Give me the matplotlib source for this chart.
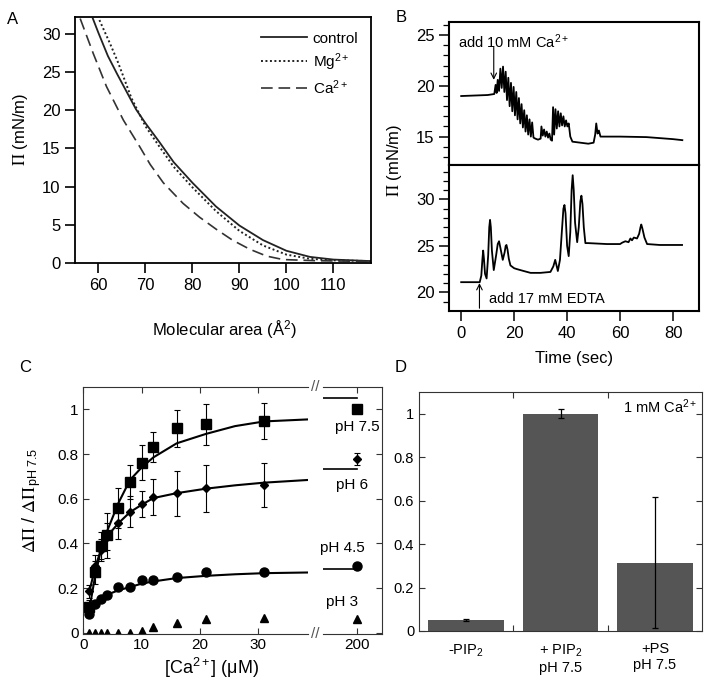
import numpy as np
import matplotlib
matplotlib.use('Agg')
import matplotlib.pyplot as plt

plt.rcParams['font.family'] = ['Liberation Sans', 'DejaVu Sans']
plt.rcParams['mathtext.fontset'] = 'stix'

# ---------------- data ----------------
# A: isotherms
area_ctrl = [58.8, 60, 62, 64, 66, 68, 70, 73, 76, 80, 85, 90, 95, 100, 105, 110, 118]
pi_ctrl = [32.0, 30.1, 27.1, 24.7, 22.4, 20.1, 18.3, 15.8, 13.2, 10.5, 7.4, 4.9, 3.0, 1.6, 0.8, 0.45, 0.25]
area_mg = [60.2, 61, 62.4, 64, 65.3, 67, 70, 73, 76, 80, 85, 90, 95, 100, 105, 110, 118]
pi_mg = [31.8, 30.7, 28.8, 26.5, 24.4, 21.6, 17.9, 15.2, 12.6, 9.9, 6.8, 4.2, 2.3, 1.1, 0.55, 0.35, 0.25]
area_ca = [56.1, 58.9, 61.7, 65.3, 68.8, 71.0, 73.8, 78.0, 81.5, 85.1, 88.5, 92.2, 95.8, 99.3, 106.4, 118]
pi_ca = [32.0, 27.4, 23.1, 18.7, 15.2, 12.9, 10.5, 7.8, 6.0, 4.4, 3.0, 1.8, 0.9, 0.45, 0.3, 0.2]

# B: time traces
t_ca = [0, 5, 10, 12.5, 13.0, 13.4, 13.8, 14.3, 14.8, 15.3, 15.8, 16.3, 16.8, 17.3, 17.8, 18.3,
        18.8, 19.3, 19.8, 20.3, 20.8, 21.3, 21.8, 22.3, 22.8, 23.3, 23.8, 24.3, 24.8, 25.3, 25.8,
        26.3, 26.8, 27.3, 28, 29, 30, 30.3, 30.8, 31.3, 31.8, 32.3, 32.8, 33.3, 33.8, 34.3, 34.7,
        35.1, 35.6, 36.1, 36.6, 37.1, 37.6, 38.1, 38.6, 39.1, 39.6, 40.1, 40.6, 41.2, 42, 45, 48,
        50, 50.6, 51.0, 51.5, 52.0, 52.6, 55, 60, 70, 75, 80, 83.5]
pi_ca_t = [19.0, 19.05, 19.1, 19.2, 20.1, 19.3, 20.6, 19.5, 21.7, 19.8, 21.9, 19.4, 21.4, 18.6, 20.8,
           18.0, 20.3, 17.5, 19.9, 17.1, 19.4, 16.7, 18.8, 16.3, 18.2, 15.9, 17.6, 15.5, 17.1, 15.2,
           16.7, 15.0, 16.4, 14.9, 14.8, 14.7, 14.8, 16.0, 15.1, 15.7, 15.0, 15.5, 14.9, 15.3, 14.7,
           14.6, 17.9, 15.2, 17.7, 15.8, 17.5, 16.0, 17.3, 16.1, 17.0, 16.0, 16.6, 16.0, 16.3, 15.0,
           14.5, 14.4, 14.3, 14.4, 15.2, 16.3, 15.3, 15.6, 15.0, 15.0, 15.0, 14.95, 14.85, 14.75, 14.65]
t_edta = [0, 4, 7.0, 7.6, 8.0, 8.3, 8.6, 9.0, 9.6, 10.2, 10.6, 10.9, 11.2, 11.6, 12.3, 13.2, 13.8,
          14.3, 14.8, 15.7, 16.4, 16.8, 17.1, 17.5, 18.0, 18.6, 20, 21.1, 23.6, 26.2, 29.9, 33.7,
          34.8, 35.5, 36.0, 36.5, 37.3, 38.0, 38.6, 39.0, 39.4, 40.0, 40.6, 41.2, 41.7, 42.1, 42.5,
          43.0, 43.8, 44.4, 45.0, 45.4, 45.8, 46.3, 46.9, 48, 55, 60, 60.8, 62, 63.2, 63.9, 64.5,
          65.2, 66.4, 67.2, 67.7, 68.0, 68.4, 69.2, 70.2, 75, 83.4]
pi_edta = [21.1, 21.1, 21.1, 21.8, 23.5, 24.5, 23.6, 22.0, 21.5, 24.0, 27.0, 27.8, 27.0, 24.5, 22.4,
           24.0, 25.2, 25.5, 24.8, 23.5, 24.3, 25.0, 25.1, 24.6, 23.6, 22.9, 22.6, 22.5, 22.3, 22.1,
           22.1, 22.2, 22.8, 23.5, 22.9, 22.3, 23.5, 26.5, 29.0, 29.4, 28.5, 25.0, 23.9, 26.5, 31.0,
           32.6, 31.0, 27.5, 25.4, 27.0, 29.8, 30.4, 29.5, 27.0, 25.3, 25.3, 25.2, 25.2, 25.35, 25.5,
           25.4, 25.8, 25.6, 25.9, 25.8, 26.3, 27.0, 27.3, 26.9, 25.9, 25.2, 25.1, 25.1]

# C: titration
ca_conc = [1, 2, 3, 4, 6, 8, 10, 12, 16, 21, 31]
ph75 = [0.115, 0.27, 0.39, 0.437, 0.557, 0.676, 0.761, 0.83, 0.915, 0.933, 0.949]
ph75_err = [0.03, 0.05, 0.06, 0.1, 0.09, 0.075, 0.078, 0.067, 0.082, 0.091, 0.081]
ph6 = [0.185, 0.30, 0.37, 0.43, 0.49, 0.542, 0.575, 0.609, 0.624, 0.646, 0.661]
ph6_err = [0.03, 0.05, 0.05, 0.06, 0.07, 0.07, 0.058, 0.08, 0.1, 0.105, 0.1]
ph45 = [0.085, 0.13, 0.151, 0.169, 0.203, 0.203, 0.237, 0.237, 0.252, 0.27, 0.27]
ph3 = [0, 0, 0, 0, 0, 0, 0.008, 0.027, 0.045, 0.062, 0.065]
fit_x = [1, 2, 3, 4, 6, 8, 10, 12, 16, 21, 26, 31, 38.5]
fit75 = [0.10, 0.25, 0.37, 0.45, 0.58, 0.684, 0.74, 0.785, 0.848, 0.89, 0.925, 0.946, 0.955]
fit6 = [0.18, 0.29, 0.37, 0.43, 0.49, 0.54, 0.573, 0.603, 0.625, 0.645, 0.66, 0.672, 0.684]
fit45 = [0.11, 0.135, 0.155, 0.17, 0.19, 0.205, 0.22, 0.23, 0.245, 0.255, 0.262, 0.267, 0.27]
x200 = 200
at200 = {'7.5': 1.0, '6': 0.778, '4.5': 0.299, '3': 0.06}
err200_ph6 = 0.027
fit200 = {'7.5': 1.049, '6': 0.733, '4.5': 0.285}

# D: bars
bar_labels = [r'-PIP$\mathregular{_2}$', '+ PIP$\\mathregular{_2}$\npH 7.5', '+PS\npH 7.5']
bar_vals = [0.05, 1.0, 0.315]
bar_err = [0.003, 0.02, 0.30]

W, H = 708, 687
fig = plt.figure(figsize=(W / 100, H / 100), dpi=100)


def box(l, t, r, b):
    return [l / W, 1 - b / H, (r - l) / W, (b - t) / H]


def ftext(x, y, s, **kw):
    return fig.text(x / W, 1 - y / H, s, **kw)


# ---------------- A ----------------
axA = fig.add_axes(box(75, 17, 371, 263))
axA.plot(area_ctrl, pi_ctrl, color='#222222', lw=1.3, label='control')
axA.plot(area_mg, pi_mg, color='#222222', lw=1.4, ls=(0, (1, 1.3)), label=r'Mg$\mathregular{^{2+}}$')
axA.plot(area_ca, pi_ca, color='#333333', lw=1.2, ls=(0, (7, 3.5)), label=r'Ca$\mathregular{^{2+}}$')
axA.set_xlim(55, 118)
axA.set_ylim(0, 32.2)
axA.set_xticks(np.arange(60, 111, 10))
axA.set_yticks(np.arange(0, 31, 5))
axA.tick_params(direction='out', length=7, width=1.2, labelsize=12)
for s in axA.spines.values():
    s.set_linewidth(1.3)
leg = axA.legend(loc='upper left', bbox_to_anchor=(0.63, 0.94), frameon=False, fontsize=11,
                 handlelength=3.0, handletextpad=0.35, labelspacing=0.35, borderpad=0, borderaxespad=0)
ftext(224, 330, r'Molecular area (Å$\mathregular{^2}$)', ha='center', va='center', fontsize=12)
ftext(20, 129, r'$\Pi$ (mN/m)', ha='center', va='center', rotation=90, fontsize=12)
ftext(13, 20, 'A', ha='center', va='center', fontsize=12)

# ---------------- B ----------------
axB1 = fig.add_axes(box(449, 22, 699, 165))
axB2 = fig.add_axes(box(449, 165, 699, 311))
axB1.plot(t_ca, pi_ca_t, color='black', lw=1.3)
axB2.plot(t_edta, pi_edta, color='black', lw=1.3)
for ax in (axB1, axB2):
    ax.set_xlim(-4.6, 89.8)
    for s in ax.spines.values():
        s.set_linewidth(1.5)
    ax.tick_params(axis='y', which='major', direction='out', length=7, width=1.1, labelsize=12)
    ax.tick_params(axis='y', which='minor', direction='out', length=4, width=0.9)
axB1.set_ylim(12.2, 26.3)
axB1.set_yticks([15, 20, 25])
axB1.set_yticks(np.arange(13, 27, 1), minor=True)
axB1.set_xticks([])
axB2.set_ylim(18.0, 33.7)
axB2.set_yticks([20, 25, 30])
axB2.set_yticks(np.arange(19, 34, 1), minor=True)
axB2.set_xticks([0, 20, 40, 60, 80])
axB2.tick_params(axis='x', direction='out', length=7, width=1.1, labelsize=12)
axB1.annotate('', xy=(12.3, 20.6), xytext=(12.3, 23.8),
              arrowprops=dict(arrowstyle='->', lw=0.8, color='black', shrinkA=0, shrinkB=0))
axB1.text(-1.3, 24.35, r'add 10 mM Ca$\mathregular{^{2+}}$', fontsize=10.5, va='center')
axB2.annotate('', xy=(6.9, 21.0), xytext=(6.9, 18.3),
              arrowprops=dict(arrowstyle='->', lw=0.8, color='black', shrinkA=0, shrinkB=0))
axB2.text(10.4, 19.3, 'add 17 mM EDTA', fontsize=10.5, va='center')
ftext(394, 160, r'$\Pi$ (mN/m)', ha='center', va='center', rotation=90, fontsize=12)
ftext(574, 359, 'Time (sec)', ha='center', va='center', fontsize=12)
ftext(401, 17, 'B', ha='center', va='center', fontsize=12)

# ---------------- C ----------------
axCL = fig.add_axes(box(83.3, 387, 308, 633.5))
axCR = fig.add_axes(box(323, 387, 382, 633.5))
ekw = dict(ls='none', color='black', ecolor='black', elinewidth=0.8, capsize=2, capthick=0.8)
axCL.plot(fit_x, fit75, color='black', lw=1.5)
axCL.plot(fit_x, fit6, color='black', lw=1.5)
axCL.plot(fit_x, fit45, color='black', lw=1.5)
axCL.errorbar(ca_conc, ph75, yerr=ph75_err, marker='s', ms=7, **ekw)
axCL.errorbar(ca_conc, ph6, yerr=ph6_err, marker='D', ms=4.5, **ekw)
axCL.plot(ca_conc, ph45, 'o', color='black', ms=6.5)
axCL.plot(ca_conc, ph3, '^', color='black', ms=6)
axCR.plot([196, x200], [fit200['7.5']] * 2, color='black', lw=1.2)
axCR.plot([196, x200], [fit200['6']] * 2, color='black', lw=1.2)
axCR.plot([196, x200], [fit200['4.5']] * 2, color='black', lw=1.2)
axCR.plot([x200], [at200['7.5']], 's', color='black', ms=7)
axCR.errorbar([x200], [at200['6']], yerr=[err200_ph6], marker='D', ms=4.5, **ekw)
axCR.plot([x200], [at200['4.5']], 'o', color='black', ms=6.5)
axCR.plot([x200], [at200['3']], '^', color='black', ms=6)
yt = [0, 0.2, 0.4, 0.6, 0.8, 1.0]
for ax in (axCL, axCR):
    ax.set_ylim(-0.003, 1.1)
    ax.set_yticks(yt)
    for s in ax.spines.values():
        s.set_linewidth(0.8)
        s.set_color('#333333')
    ax.tick_params(direction='in', length=4, width=0.8, labelsize=11, top=True, color='#333333')
axCL.set_xlim(0, 38.5)
axCL.set_xticks([0, 10, 20, 30])
axCL.set_yticklabels(['0', '0.2', '0.4', '0.6', '0.8', '1'])
axCL.spines['right'].set_visible(False)
axCR.set_xlim(196, 203)
axCR.set_xticks([200])
axCR.spines['left'].set_visible(False)
axCR.tick_params(axis='y', left=False, right=True, labelleft=False)
for yy in (387, 634):
    ftext(315, yy, '//', ha='center', va='center', fontsize=11, color='#555555')
ftext(380, 427, 'pH 7.5', ha='right', va='center', fontsize=11)
ftext(368, 485, 'pH 6', ha='right', va='center', fontsize=11)
ftext(365, 548, 'pH 4.5', ha='right', va='center', fontsize=11)
ftext(358, 602, 'pH 3', ha='right', va='center', fontsize=11)
ftext(211, 668, r'[Ca$\mathregular{^{2+}}$] (μM)', ha='center', va='center', fontsize=13)
ftext(32, 500, r'$\Delta\Pi$ / $\Delta\Pi_{\mathregular{pH\ 7.5}}$', ha='center', va='center',
      rotation=90, fontsize=13)
ftext(25, 368, 'C', ha='center', va='center', fontsize=12)

# ---------------- D ----------------
axD = fig.add_axes(box(419, 392, 702, 631))
pos = np.arange(len(bar_vals))
axD.bar(pos, bar_vals, width=0.8, color='#555555', yerr=bar_err,
        error_kw=dict(ecolor='black', elinewidth=0.9, capsize=2.5, capthick=0.9))
axD.set_xlim(-0.5, 2.5)
axD.set_ylim(0, 1.1)
axD.set_yticks(yt)
axD.set_yticklabels(['0', '0.2', '0.4', '0.6', '0.8', '1'])
axD.set_xticks(pos)
axD.set_xticklabels(bar_labels)
axD.set_xticks([0.5, 1.5], minor=True)
axD.tick_params(axis='x', which='major', length=0, labelsize=10.5, pad=8)
axD.tick_params(axis='x', which='minor', direction='in', length=4, width=0.8, top=True, color='#333333')
axD.tick_params(axis='y', direction='in', length=4, width=0.8, right=True, labelsize=10.5,
                color='#333333')
for s in axD.spines.values():
    s.set_linewidth(0.8)
    s.set_color('#333333')
axD.text(0.982, 0.937, r'1 mM Ca$\mathregular{^{2+}}$', transform=axD.transAxes, ha='right',
         va='center', fontsize=10.5)
ftext(401, 368, 'D', ha='center', va='center', fontsize=12)

fig.savefig('out.png', dpi=100)
